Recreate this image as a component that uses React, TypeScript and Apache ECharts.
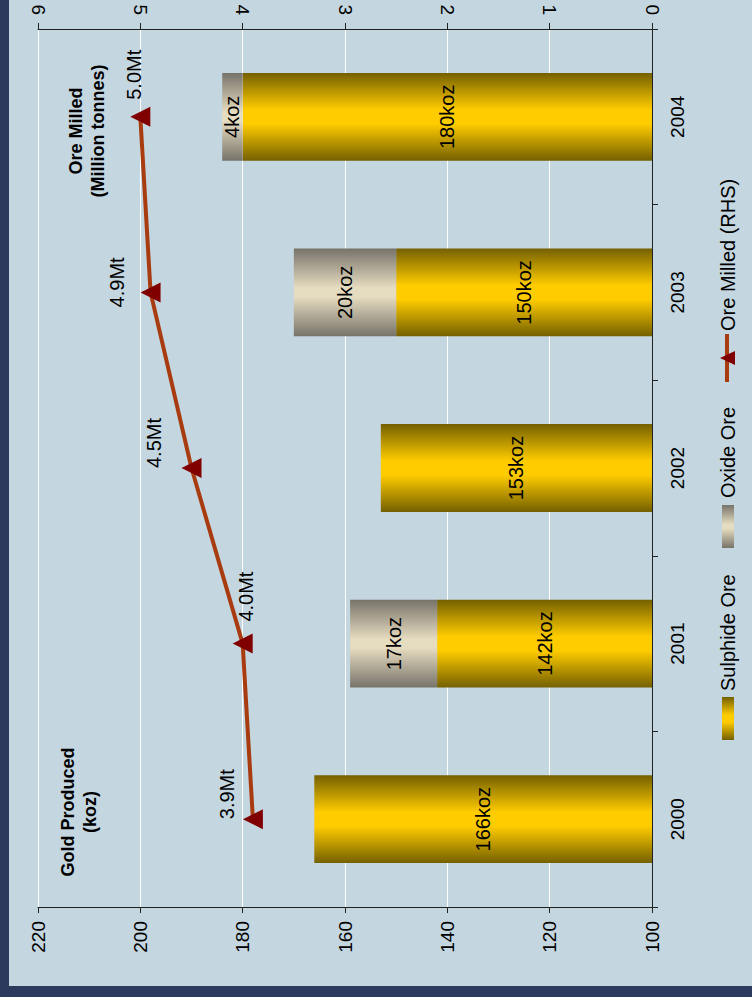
import React, { useEffect, useRef } from "react";
import * as echarts from "echarts";

// ---- data ----
const years = ["2000", "2001", "2002", "2003", "2004"];
const sulphideKoz = [166, 142, 153, 150, 180];
const oxideKoz: (number | null)[] = [null, 17, null, 20, 4];
const oreMilledMt = [3.9, 4.0, 4.5, 4.9, 5.0];
const goldAxisRange = [100, 220];
const goldAxisStep = 20;
const oreAxisRange = [0, 6];
const oreAxisStep = 1;

// ---- styling (screen-space nudges for the line labels, px) ----
const oreLabelNudge: [number, number][] = [
  [-16, 0],
  [13, -22],
  [-28, 0],
  [-24, 15],
  [4, -17],
];

const FONT = "Liberation Sans, Arial, sans-serif";
const BG = "#c4d6df";
const NAVY = "#2c3a5e";
const LINE = "#a83c10";
const MARK = "#800000";

const goldGrad = () =>
  new echarts.graphic.LinearGradient(0, 0, 0, 1, [
    { offset: 0, color: "#746000" },
    { offset: 0.42, color: "#ffcc00" },
    { offset: 0.58, color: "#ffcc00" },
    { offset: 1, color: "#746000" },
  ]);
const oxideGrad = () =>
  new echarts.graphic.LinearGradient(0, 0, 0, 1, [
    { offset: 0, color: "#77736a" },
    { offset: 0.45, color: "#e6dcc0" },
    { offset: 0.55, color: "#e6dcc0" },
    { offset: 1, color: "#77736a" },
  ]);

export default function App() {
  const ref = useRef<HTMLDivElement>(null);
  useEffect(() => {
    document.body.style.margin = "0";
    const chart = echarts.init(ref.current!, null, { renderer: "svg" });
    const R = Math.PI / 2;
    const option: any = {
      animation: false,
      backgroundColor: BG,
      textStyle: { fontFamily: FONT },
      grid: { left: 38, right: 100, top: 29, bottom: 90, containLabel: false },
      xAxis: [
        {
          type: "value",
          position: "bottom",
          inverse: true,
          min: goldAxisRange[0],
          max: goldAxisRange[1],
          interval: goldAxisStep,
          axisLine: { show: true, onZero: false, lineStyle: { color: "#222", width: 1 } },
          axisTick: { show: true, length: 6, lineStyle: { color: "#222" } },
          axisLabel: { rotate: 90, fontSize: 19, color: "#000", margin: 14, fontFamily: FONT },
          splitLine: { show: true, lineStyle: { color: "#ffffff", width: 1 } },
        },
        {
          type: "value",
          position: "top",
          inverse: true,
          min: oreAxisRange[0],
          max: oreAxisRange[1],
          interval: oreAxisStep,
          axisLine: { show: true, onZero: false, lineStyle: { color: "#222", width: 1 } },
          axisTick: { show: true, length: 6, lineStyle: { color: "#222" } },
          axisLabel: { rotate: 90, fontSize: 19, color: "#000", margin: 14, fontFamily: FONT },
          splitLine: { show: false },
        },
      ],
      yAxis: {
        type: "category",
        position: "right",
        data: years,
        axisLine: { show: true, onZero: false, lineStyle: { color: "#222", width: 1 } },
        axisTick: { show: true, length: 6, lineStyle: { color: "#222" } },
        axisLabel: { rotate: 90, fontSize: 19, color: "#000", margin: 16, fontFamily: FONT },
        splitLine: { show: false },
      },
      series: [
        {
          name: "Sulphide Ore",
          type: "bar",
          stack: "gold",
          xAxisIndex: 0,
          barWidth: "50%",
          clip: true,
          data: sulphideKoz,
          itemStyle: { color: goldGrad() },
          label: {
            show: true,
            position: "inside",
            rotate: 90,
            formatter: "{c}koz",
            fontSize: 20,
            color: "#000",
            fontFamily: FONT,
          },
        },
        {
          name: "Oxide Ore",
          type: "bar",
          stack: "gold",
          xAxisIndex: 0,
          barWidth: "50%",
          clip: true,
          data: oxideKoz,
          itemStyle: { color: oxideGrad() },
          label: {
            show: true,
            position: "inside",
            rotate: 90,
            formatter: "{c}koz",
            fontSize: 20,
            color: "#000",
            fontFamily: FONT,
          },
        },
        {
          name: "Ore Milled (RHS)",
          type: "line",
          xAxisIndex: 1,
          // label offset is applied in the rotated frame: screen (sx, sy) -> offset [-sy, sx]
          data: oreMilledMt.map((v, i) => ({
            value: v,
            label: { offset: [-oreLabelNudge[i][1], oreLabelNudge[i][0]] },
          })),
          lineStyle: { color: LINE, width: 4 },
          symbol: "triangle",
          symbolSize: 20,
          symbolRotate: 90,
          itemStyle: { color: MARK },
          z: 5,
          label: {
            show: true,
            position: "inside",
            rotate: 90,
            align: "left",
            verticalAlign: "bottom",
            formatter: (p: any) => p.value.toFixed(1) + "Mt",
            fontSize: 20,
            color: "#000",
            fontFamily: FONT,
          },
        },
      ],
      graphic: [
        { type: "rect", shape: { x: 0, y: 0, width: 9, height: 997 }, style: { fill: NAVY }, z: 100 },
        { type: "rect", shape: { x: 0, y: 986, width: 752, height: 11 }, style: { fill: NAVY }, z: 100 },
        {
          type: "text",
          x: 79,
          y: 812,
          rotation: R,
          style: {
            text: "Gold Produced\n(koz)",
            font: "bold 18px " + FONT,
            fill: "#000",
            textAlign: "center",
            textVerticalAlign: "middle",
            lineHeight: 22,
          },
          z: 100,
        },
        {
          type: "text",
          x: 87,
          y: 131,
          rotation: R,
          style: {
            text: "Ore Milled\n(Million tonnes)",
            font: "bold 18px " + FONT,
            fill: "#000",
            textAlign: "center",
            textVerticalAlign: "middle",
            lineHeight: 22,
          },
          z: 100,
        },
        // legend
        { type: "rect", shape: { x: 722, y: 697, width: 12, height: 43 }, style: { fill: goldGrad() }, z: 100 },
        {
          type: "text",
          x: 728,
          y: 691,
          rotation: R,
          style: { text: "Sulphide Ore", font: "20px " + FONT, fill: "#000", textAlign: "left", textVerticalAlign: "middle" },
          z: 100,
        },
        { type: "rect", shape: { x: 722, y: 505, width: 12, height: 43 }, style: { fill: oxideGrad() }, z: 100 },
        {
          type: "text",
          x: 728,
          y: 498,
          rotation: R,
          style: { text: "Oxide Ore", font: "20px " + FONT, fill: "#000", textAlign: "left", textVerticalAlign: "middle" },
          z: 100,
        },
        {
          type: "line",
          shape: { x1: 727, y1: 334, x2: 727, y2: 382 },
          style: { stroke: LINE, lineWidth: 4 },
          z: 100,
        },
        {
          type: "polygon",
          shape: { points: [[720, 358], [735, 351], [735, 365]] },
          style: { fill: MARK },
          z: 101,
        },
        {
          type: "text",
          x: 728,
          y: 331,
          rotation: R,
          style: { text: "Ore Milled (RHS)", font: "20px " + FONT, fill: "#000", textAlign: "left", textVerticalAlign: "middle" },
          z: 100,
        },
      ],
    };
    chart.setOption(option);
    return () => chart.dispose();
  }, []);
  return <div ref={ref} style={{ position: "absolute", left: 0, top: 0, width: 752, height: 997 }} />;
}
